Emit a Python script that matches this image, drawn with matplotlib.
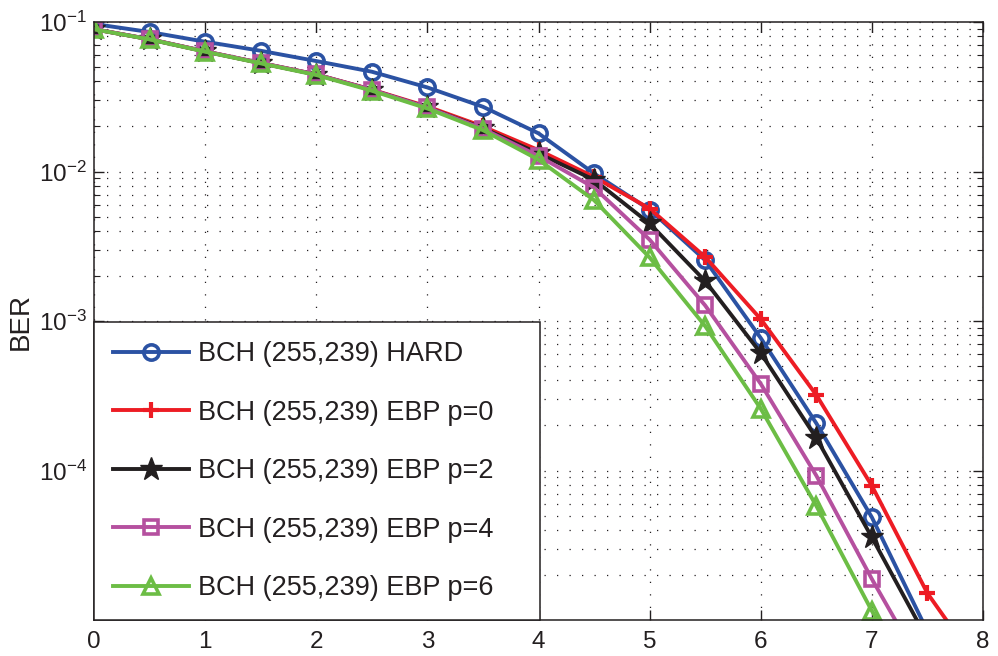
import matplotlib
matplotlib.use("Agg")
import matplotlib.pyplot as plt
import numpy as np
from matplotlib.ticker import LogLocator, NullFormatter

plt.rcParams['font.family'] = ['Liberation Sans', 'DejaVu Sans']
plt.rcParams['mathtext.default'] = 'regular'

ebno = [0, 0.5, 1, 1.5, 2, 2.5, 3, 3.5, 4, 4.5, 5, 5.5, 6, 6.5, 7, 7.5]
ebno_red = [0, 0.5, 1, 1.5, 2, 2.5, 3, 3.5, 4, 4.5, 5, 5.5, 6, 6.5, 7, 7.5, 8]

ber_hard = [0.097, 0.0857, 0.0738, 0.0642, 0.0548, 0.0465, 0.0365, 0.0271, 0.0180,
            0.0097, 0.00556, 0.00255, 0.000769, 0.000207, 4.86e-5, 8.4e-6]
ber_p0 = [0.0896, 0.0767, 0.0636, 0.0532, 0.0446, 0.0353, 0.0272, 0.0200, 0.0139,
          0.0092, 0.00565, 0.00268, 0.00103, 0.00032, 7.9e-5, 1.51e-5, 4.5e-6]
ber_p2 = [0.0895, 0.0766, 0.0635, 0.0531, 0.0445, 0.0351, 0.0268, 0.0195, 0.0132,
          0.0088, 0.00449, 0.00185, 0.00061, 0.000165, 3.57e-5, 7.4e-6]
ber_p4 = [0.0897, 0.0768, 0.0637, 0.0533, 0.0446, 0.0352, 0.0268, 0.0193, 0.0127,
          0.0078, 0.0035, 0.00127, 0.00038, 9.25e-5, 1.88e-5, 4.2e-6]
ber_p6 = [0.0894, 0.0765, 0.0633, 0.0529, 0.0442, 0.0347, 0.0264, 0.0189, 0.0120,
          0.00643, 0.00266, 0.000924, 0.000259, 5.8e-5, 1.15e-5, 2.9e-6]

labels = ['BCH (255,239) HARD', 'BCH (255,239) EBP p=0', 'BCH (255,239) EBP p=2',
          'BCH (255,239) EBP p=4', 'BCH (255,239) EBP p=6']
colors = ['#2B52A3', '#ED1C24', '#231F20', '#B5509F', '#6CBD45']

fig = plt.figure(figsize=(9.98, 6.56), dpi=100)
ax = fig.add_axes([94/998, 1 - 620/656, (983-94)/998, (620-22)/656])

lw = 2.8
ax.plot(ebno, ber_hard, color=colors[0], lw=lw, marker='o', ms=11, mfc='none', mec=colors[0], mew=2.6, label=labels[0])
ax.plot(ebno_red, ber_p0, color=colors[1], lw=lw, marker='+', ms=11, mec=colors[1], mew=3.0, label=labels[1])
ax.plot(ebno, ber_p2, color=colors[2], lw=lw, marker='*', ms=17, mfc=colors[2], mec=colors[2], mew=1, label=labels[2])
ax.plot(ebno, ber_p4, color=colors[3], lw=lw, marker='s', ms=10, mfc='none', mec=colors[3], mew=2.6, label=labels[3])
ax.plot(ebno, ber_p6, color=colors[4], lw=lw, marker='^', ms=12, mfc='none', mec=colors[4], mew=2.6, label=labels[4])

ax.set_yscale('log')
ax.set_xlim(0, 8)
ax.set_ylim(1e-5, 1e-1)
ax.set_xticks(range(0, 9))
ax.set_yticks([1e-4, 1e-3, 1e-2, 1e-1])
ax.set_yticklabels(['$10^{-4}$', '$10^{-3}$', '$10^{-2}$', '$10^{-1}$'])
ax.yaxis.set_minor_locator(LogLocator(base=10, subs=np.arange(2, 10), numticks=20))
ax.yaxis.set_minor_formatter(NullFormatter())

ax.tick_params(axis='both', which='both', direction='in', top=True, right=True, labelsize=17.5, colors='#231F20')
ax.tick_params(axis='both', which='major', length=7, width=1)
ax.tick_params(axis='y', which='minor', length=4, width=0.8)
ax.tick_params(axis='x', pad=8)
ax.tick_params(axis='y', pad=5)

gridstyle = dict(color='#231F20', linestyle=(0, (1, 9)), linewidth=0.9)
ax.grid(True, which='major', axis='both', **gridstyle)
ax.grid(True, which='minor', axis='y', **gridstyle)
ax.set_axisbelow(True)

for s in ax.spines.values():
    s.set_color('#231F20')
    s.set_linewidth(1.1)

ax.set_ylabel('BER', fontsize=20, color='#231F20', labelpad=4)

leg = ax.legend(loc='lower left', bbox_to_anchor=(0, 0, (540-94)/889, 0.5), mode='expand',
                fontsize=19.5, frameon=True, fancybox=False, framealpha=1,
                edgecolor='#231F20', borderpad=0.7, labelspacing=1.2,
                handlelength=2.8, handletextpad=0.35, borderaxespad=0)
leg.get_frame().set_linewidth(1.1)
for t in leg.get_texts():
    t.set_color('#231F20')

fig.savefig('out.png', dpi=100)
